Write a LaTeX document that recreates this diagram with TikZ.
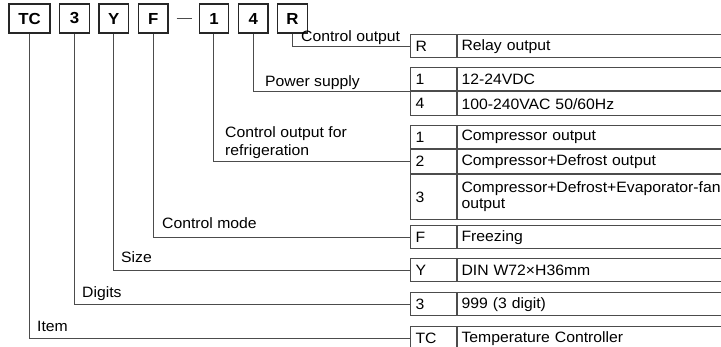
\documentclass[tikz,border=0pt]{standalone}
\usepackage{fontspec}
\setmainfont[FakeStretch=1.05]{Liberation Sans}
\usetikzlibrary{positioning}

\begin{document}
\begin{tikzpicture}[x=1pt, y=-1pt, font=\fontsize{15}{17}\selectfont,
        node distance=8.5pt,
        codebox/.style={draw=black!85, line width=1.3pt, minimum width=29.5pt, minimum height=29pt,
            inner sep=0pt, font=\fontsize{16}{18}\selectfont\bfseries},
        keycell/.style={draw=black!70, line width=1pt, anchor=north west, text width=36pt,
            inner xsep=5pt, inner ysep=0pt, minimum height=23.5pt, align=left},
        valcell/.style={keycell, text width=272pt, inner xsep=4pt},
        conn/.style={draw=black!70, line width=1pt},
        lbl/.style={anchor=base west, inner sep=0pt}]
    \useasboundingbox (0,0) rectangle (721,347);

    % model code
    \node[codebox, minimum width=41pt] (bTC) at (29.5,18.5) {TC};
    \node[codebox, right=of bTC] (b3) {3};
    \node[codebox, right=of b3] (bY) {Y};
    \node[codebox, right=of bY] (bF) {F};
    \node[codebox, right=30pt of bF] (b1) {1};
    \node[codebox, right=of b1] (b4) {4};
    \node[codebox, right=of b4] (bR) {R};
    \draw[conn] ([xshift=8pt]bF.east) -- ([xshift=-7pt]b1.west);

    % tables
    \node[keycell] (kR) at (410,34) {R};
    \node[valcell] (vR) at (kR.north east) {Relay output};

    \node[keycell] (kP1) at (410,67) {1};
    \node[valcell] (vP1) at (kP1.north east) {12-24VDC};
    \node[keycell] (kP4) at (kP1.south west) {4};
    \node[valcell] (vP4) at (kP4.north east) {100-240VAC 50/60Hz};

    \node[keycell] (kC1) at (410,125) {1};
    \node[valcell] (vC1) at (kC1.north east) {Compressor output};
    \node[keycell] (kC2) at (kC1.south west) {2};
    \node[valcell] (vC2) at (kC2.north east) {Compressor+Defrost output};
    \node[keycell, minimum height=45pt] (kC3) at (kC2.south west) {3};
    \node[valcell, minimum height=45pt, font=\fontsize{15}{16}\selectfont] (vC3) at (kC3.north east)
        {Compressor+Defrost+Evaporator-fan\\output};

    \node[keycell] (kF) at (410,225) {F};
    \node[valcell] (vF) at (kF.north east) {Freezing};

    \node[keycell] (kY) at (410,258) {Y};
    \node[valcell] (vY) at (kY.north east) {DIN W72×H36mm};

    \node[keycell] (k3) at (410,292) {3};
    \node[valcell] (v3) at (k3.north east) {999 (3 digit)};

    \node[keycell] (kTC) at (410,326) {TC};
    \node[valcell] (vTC) at (kTC.north east) {Temperature Controller};

    % connectors
    \draw[conn] (bR.south) |- (kR.west);
    \draw[conn] (b4.south) |- (kP1.south west);
    \draw[conn] (b1.south) |- (kC2.west);
    \draw[conn] (bF.south) |- (kF.west);
    \draw[conn] (bY.south) |- (kY.west);
    \draw[conn] (b3.south) |- (k3.west);
    \draw[conn] (bTC.south) |- (kTC.west);

    % labels
    \node[lbl] (lR) at (301,42) {Control output};
    \node[lbl] (l4) at (265,87) {Power supply};
    \node[anchor=north west, inner sep=0pt, align=left, font=\fontsize{15}{18.5}\selectfont] (l1)
        at (225,126) {Control output for\\refrigeration};
    \node[lbl] (lF) at (162,229) {Control mode};
    \node[lbl] (lY) at (121,263) {Size};
    \node[lbl] (l3) at (82,298) {Digits};
    \node[lbl] (lTC) at (37,332) {Item};
\end{tikzpicture}
\end{document}
